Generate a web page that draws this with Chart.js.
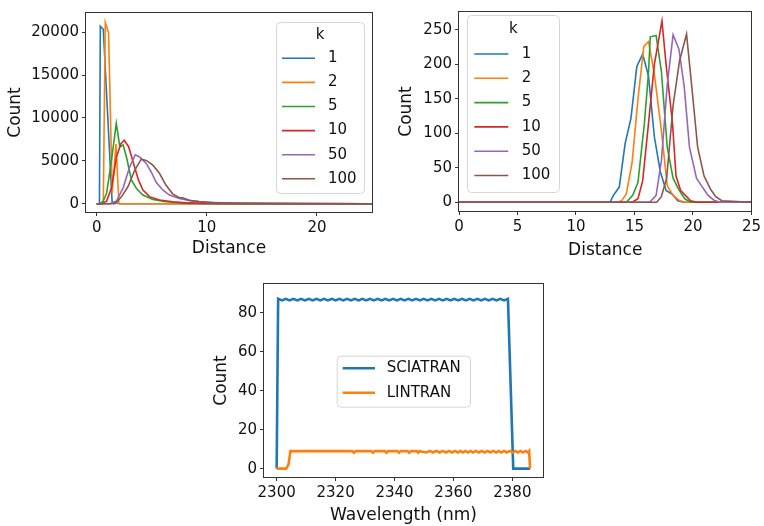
<!DOCTYPE html>
<html>
<head>
<meta charset="utf-8">
<script src="https://cdn.jsdelivr.net/npm/chart.js@4.4.0/dist/chart.umd.min.js"></script>
<style>
    body { margin: 0; background: #fff; width: 764px; height: 526px; position: relative; overflow: hidden; }
    canvas { position: absolute; }
</style>
</head>
<body>
<canvas id="near-chart" width="380" height="262" style="left:0;top:0"></canvas>
<canvas id="far-chart" width="384" height="262" style="left:380px;top:0"></canvas>
<canvas id="band-chart" width="370" height="256" style="left:190px;top:270px"></canvas>
<script>
// ---- top left: distance histogram, small distances ----
const kLabels = ['1', '2', '5', '10', '50', '100'];
const kColors = ['#1f77b4', '#ff7f0e', '#2ca02c', '#d62728', '#9467bd', '#8c564b'];

const nearDist1 = [0, 0.25, 0.33, 0.6, 1.4, 1.75, 2.1, 25];
const nearCount1 = [0, 0, 20700, 20350, 200, 100, 0, 0];
const nearDist2 = [0, 0.6, 0.78, 1.08, 1.41, 1.75, 2.02, 25];
const nearCount2 = [0, 0, 21150, 19950, 1250, 6950, 0, 0];
const nearDist5 = [0, 0.3, 0.6, 0.9, 1.35, 1.78, 2.1, 2.4, 2.7, 3.15, 3.6, 3.9, 4.2, 5.1, 6.3, 8, 12, 25];
const nearCount5 = [0, 0, 300, 1200, 5100, 9380, 6650, 6850, 5480, 2770, 1800, 1400, 1010, 500, 230, 60, 10, 0];
const nearDist10 = [0, 0.5, 0.9, 1.35, 1.8, 2.2, 2.5, 2.9, 3.35, 3.8, 4.2, 4.8, 5.7, 6.9, 8.1, 10, 14, 25];
const nearCount10 = [0, 0, 300, 1850, 5480, 7000, 7400, 6650, 4700, 2750, 1600, 820, 430, 230, 100, 40, 10, 0];
const nearDist50 = [0, 1.2, 1.8, 2.4, 3.0, 3.5, 3.9, 4.5, 4.95, 5.4, 6.0, 6.6, 7.5, 8.7, 9.9, 12, 16, 25];
const nearCount50 = [0, 0, 300, 1850, 4300, 5700, 5450, 4700, 3700, 2500, 1600, 1000, 600, 300, 150, 60, 20, 0];
const nearDist100 = [0, 1.65, 2.25, 2.85, 3.45, 4.05, 4.5, 5.1, 5.7, 6.3, 6.9, 7.5, 7.8, 8.4, 9.3, 10.5, 13, 18, 25];
const nearCount100 = [0, 0, 800, 2000, 3900, 5200, 5050, 4500, 3550, 2150, 1150, 700, 700, 400, 250, 120, 50, 20, 0];
const nearXTicks = [0, 10, 20];
const nearYTicks = [0, 5000, 10000, 15000, 20000];

// ---- top right: distance histogram, large distances ----
const farDist1 = [0, 12.9, 13.2, 13.7, 14.2, 14.7, 15.2, 15.7, 16.2, 16.7, 17.2, 17.7, 18.2, 18.7, 19.2, 25];
const farCount1 = [0, 0, 10, 22, 85, 122, 197, 215, 183, 95, 45, 17, 12, 2, 0, 0];
const farDist2 = [0, 13.5, 13.9, 14.3, 14.8, 15.3, 15.8, 16.2, 16.7, 17.3, 17.8, 18.3, 18.8, 19.3, 25];
const farCount2 = [0, 0, 2, 12, 58, 150, 226, 233, 186, 104, 24, 10, 3, 0, 0];
const farDist5 = [0, 14.3, 14.85, 15.3, 15.85, 16.2, 16.35, 16.85, 17.3, 17.8, 18.3, 18.8, 19.3, 19.8, 25];
const farCount5 = [0, 0, 10, 29, 115, 188, 240, 242, 190, 80, 35, 18, 5, 0, 0];
const farDist10 = [0, 14.8, 15.3, 15.7, 16.15, 16.7, 17.35, 17.7, 18.25, 18.55, 18.95, 19.8, 20.3, 25];
const farCount10 = [0, 0, 5, 31, 106, 200, 263, 200, 115, 38, 17, 2, 0, 0];
const farDist50 = [0, 16.3, 16.85, 17.3, 17.8, 18.3, 18.8, 19.25, 19.7, 20.3, 20.8, 21.3, 21.8, 22.3, 25];
const farCount50 = [0, 0, 10, 60, 170, 243, 222, 168, 80, 35, 22, 10, 3, 0, 0];
const farDist100 = [0, 16.9, 17.3, 17.75, 18.3, 18.85, 19.45, 19.85, 20.4, 20.95, 21.5, 21.95, 22.5, 25];
const farCount100 = [0, 0, 8, 35, 140, 205, 244, 176, 80, 38, 19, 8, 2, 0];
const farXTicks = [0, 5, 10, 15, 20, 25];
const farYTicks = [0, 50, 100, 150, 200, 250];

// ---- bottom: counts per wavelength ----
const sciaWavelength = [2300,
    2300.5, 2301.8, 2303.1, 2304.4, 2305.7, 2307.0, 2308.3, 2309.6, 2310.9, 2312.2,
    2313.5, 2314.8, 2316.1, 2317.4, 2318.7, 2320.0, 2321.3, 2322.6, 2323.9, 2325.2,
    2326.5, 2327.8, 2329.1, 2330.4, 2331.7, 2333.0, 2334.3, 2335.6, 2336.9, 2338.2,
    2339.5, 2340.8, 2342.1, 2343.4, 2344.7, 2346.0, 2347.3, 2348.6, 2349.9, 2351.2,
    2352.5, 2353.8, 2355.1, 2356.4, 2357.7, 2359.0, 2360.3, 2361.6, 2362.9, 2364.2,
    2365.5, 2366.8, 2368.1, 2369.4, 2370.7, 2372.0, 2373.3, 2374.6, 2375.9, 2377.2,
    2378.5, 2380.3, 2386];
const sciaCount = [0,
    87.3, 86.5, 87.3, 86.5, 87.3, 86.5, 87.3, 86.5, 87.3, 86.5,
    87.3, 86.5, 87.3, 86.5, 87.3, 86.5, 87.3, 86.5, 87.3, 86.5,
    87.3, 86.5, 87.3, 86.5, 87.3, 86.5, 87.3, 86.5, 87.3, 86.5,
    87.3, 86.5, 87.3, 86.5, 87.3, 86.5, 87.3, 86.5, 87.3, 86.5,
    87.3, 86.5, 87.3, 86.5, 87.3, 86.5, 87.3, 86.5, 87.3, 86.5,
    87.3, 86.5, 87.3, 86.5, 87.3, 86.5, 87.3, 86.5, 87.3, 86.5,
    87.3, 0, 0];
const linWavelength = [2300, 2303.2, 2304.0, 2304.7,
    2325.6, 2326.2, 2326.8, 2332.1, 2332.7, 2333.3, 2336.7, 2337.3, 2337.9,
    2340.9, 2341.5, 2342.1, 2344.4, 2345.0, 2345.6, 2347.5, 2348.0, 2348.5,
    2350.8, 2352.0, 2353.0, 2354.2, 2355.3, 2356.4, 2357.5, 2358.5, 2359.5, 2360.5,
    2361.5, 2362.4, 2363.2, 2364.1, 2364.9, 2365.8, 2366.6, 2367.6, 2368.6, 2369.6,
    2370.6, 2371.6, 2372.5, 2373.5, 2374.5, 2375.4, 2376.2, 2377.2, 2378.1, 2379.2,
    2380.2, 2381.0, 2381.9, 2382.8, 2383.6, 2384.5, 2385.3, 2385.7, 2386.0];
const linCount = [0, 0, 2, 9,
    9, 8.2, 9, 9, 8.2, 9, 9, 8.2, 9,
    9, 8.2, 9, 9, 8.2, 9, 9, 8.2, 9,
    8.3, 9.1, 8.3, 9.1, 8.3, 9.1, 8.3, 9.1, 8.3, 9.1,
    8.3, 9.1, 8.3, 9.1, 8.3, 9.1, 8.3, 9.1, 8.3, 9.1,
    8.3, 9.1, 8.3, 9.1, 8.3, 9.1, 8.3, 9.1, 8.3, 9.1,
    8.3, 9.1, 8.3, 9.1, 8.3, 9.1, 8.3, 9, 0];
const bandLabels = ['SCIATRAN', 'LINTRAN'];
const bandXTicks = [2300, 2320, 2340, 2360, 2380];
const bandYTicks = [0, 20, 40, 60, 80];

const FONT = 'DejaVu Sans';
const TEXT = '#111';

function toPoints(xs, ys) {
    return xs.map((x, i) => ({ x: x, y: ys[i] }));
}

function makeAxis(min, max, ticks, title, size, titlePad, isX) {
    return {
        type: 'linear',
        min: min,
        max: max,
        border: { display: false },
        grid: { drawOnChartArea: false, drawTicks: true, tickLength: 4, color: '#333', lineWidth: 1 },
        ticks: {
            color: TEXT, padding: 3, autoSkip: false, maxRotation: 0,
            font: { family: FONT, size: 15 },
            callback: v => String(v)
        },
        title: { display: true, text: title, color: TEXT, font: { family: FONT, size: 17 }, padding: titlePad },
        afterBuildTicks: scale => { scale.ticks = ticks.map(v => ({ value: v })); },
        afterFit: scale => { if (isX) scale.height = size; else scale.width = size; }
    };
}

// frame around the plot area and a matplotlib style legend inside it
const framePlugin = {
    id: 'frameBox',
    afterDatasetsDraw(chart, args, opts) {
        const a = chart.chartArea;
        const ctx = chart.ctx;
        ctx.save();
        ctx.strokeStyle = '#333';
        ctx.lineWidth = 1;
        ctx.strokeRect(Math.round(a.left) - 0.5, Math.round(a.top) - 0.5,
            Math.round(a.right - a.left) + 1, Math.round(a.bottom - a.top) + 1);

        const lg = opts.legend;
        if (lg) {
            ctx.beginPath();
            ctx.roundRect(lg.x + 0.5, lg.y + 0.5, lg.w, lg.h, 4);
            ctx.fillStyle = 'rgba(255,255,255,0.85)';
            ctx.fill();
            ctx.strokeStyle = '#d6d6d6';
            ctx.stroke();
            ctx.fillStyle = TEXT;
            ctx.font = '15px "' + FONT + '"';
            ctx.textBaseline = 'middle';
            if (lg.title) {
                ctx.textAlign = 'center';
                ctx.fillText(lg.title, lg.titleX, lg.titleY);
            }
            ctx.textAlign = 'left';
            chart.data.datasets.forEach((ds, i) => {
                const y = lg.rowY + i * lg.rowGap;
                ctx.beginPath();
                ctx.moveTo(lg.lineX0, y);
                ctx.lineTo(lg.lineX1, y);
                ctx.strokeStyle = ds.borderColor;
                ctx.lineWidth = ds.borderWidth;
                ctx.stroke();
                ctx.fillStyle = TEXT;
                ctx.fillText(ds.label, lg.textX, y);
            });
        }
        ctx.restore();
    }
};

function kDatasets(dists, counts) {
    return kLabels.map((k, i) => ({
        label: k,
        data: toPoints(dists[i], counts[i]),
        borderColor: kColors[i],
        backgroundColor: kColors[i],
        borderWidth: 1.6,
        pointRadius: 0,
        tension: 0,
        order: kLabels.length - i
    }));
}

function baseOptions(pad, xAxis, yAxis, legend) {
    return {
        responsive: false,
        animation: false,
        layout: { padding: pad },
        plugins: {
            legend: { display: false },
            tooltip: { enabled: false },
            frameBox: { legend: legend }
        },
        scales: { x: xAxis, y: yAxis }
    };
}

new Chart(document.getElementById('near-chart'), {
    type: 'line',
    data: {
        datasets: kDatasets(
            [nearDist1, nearDist2, nearDist5, nearDist10, nearDist50, nearDist100],
            [nearCount1, nearCount2, nearCount5, nearCount10, nearCount50, nearCount100])
    },
    options: baseOptions({ top: 13, right: 8, left: 0, bottom: 0 },
        makeAxis(-0.97, 25, nearXTicks, 'Distance', 50, { top: 0, bottom: 3 }, true),
        makeAxis(-970, 22250, nearYTicks, 'Count', 86, { top: 5, bottom: 0 }, false),
        { x: 276, y: 22, w: 88, h: 171, title: 'k', titleX: 320, titleY: 35,
          rowY: 58.3, rowGap: 24.1, lineX0: 282, lineX1: 315, textX: 328 }),
    plugins: [framePlugin]
});

new Chart(document.getElementById('far-chart'), {
    type: 'line',
    data: {
        datasets: kDatasets(
            [farDist1, farDist2, farDist5, farDist10, farDist50, farDist100],
            [farCount1, farCount2, farCount5, farCount10, farCount50, farCount100])
    },
    options: baseOptions({ top: 6, right: 9, left: 0, bottom: 0 },
        makeAxis(0, 25, farXTicks, 'Distance', 51, { top: 0, bottom: 1.5 }, true),
        makeAxis(-12.7, 276, farYTicks, 'Count', 79, { top: 16.5, bottom: 0 }, false),
        { x: 87, y: 15, w: 92, h: 177, title: 'k', titleX: 133.3, titleY: 29.3,
          rowY: 54, rowGap: 24.3, lineX0: 94.3, lineX1: 128.3, textX: 141.7 }),
    plugins: [framePlugin]
});

new Chart(document.getElementById('band-chart'), {
    type: 'line',
    data: {
        datasets: [
            { label: bandLabels[0], data: toPoints(sciaWavelength, sciaCount), borderColor: kColors[0],
              borderWidth: 2.6, pointRadius: 0, tension: 0, order: 2 },
            { label: bandLabels[1], data: toPoints(linWavelength, linCount), borderColor: kColors[1],
              borderWidth: 2.6, pointRadius: 0, tension: 0, order: 1 }
        ]
    },
    options: baseOptions({ top: 14, right: 17, left: 0, bottom: 0 },
        makeAxis(2295.7, 2390.4, bandXTicks, 'Wavelength (nm)', 49, { top: 0, bottom: 0 }, true),
        makeAxis(-4.3, 94.9, bandYTicks, 'Count', 74, { top: 21.5, bottom: 0 }, false),
        { x: 146.7, y: 85.7, w: 133.3, h: 51,
          rowY: 98.3, rowGap: 24.4, lineX0: 152.7, lineX1: 185, textX: 196.7 }),
    plugins: [framePlugin]
});
</script>
</body>
</html>
